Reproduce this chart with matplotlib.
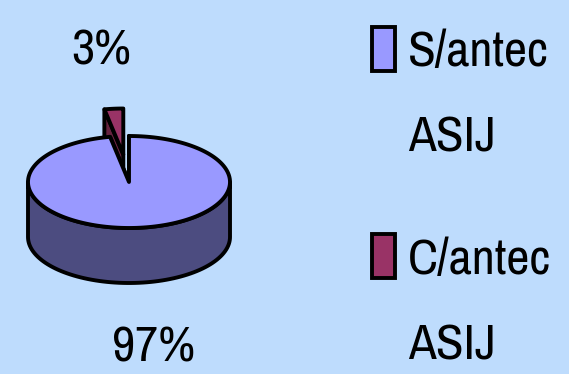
import numpy as np
import matplotlib.pyplot as plt
from matplotlib import font_manager as fm
from matplotlib.patches import Polygon, Rectangle
import logging

logging.getLogger("matplotlib.font_manager").setLevel(logging.ERROR)

# data
labels = ["S/antec\nASIJ", "C/antec\nASIJ"]
values = [97, 3]
pct_text = ["97%", "3%"]
top_colors = ["#9999FF", "#993366"]
side_colors = ["#4C4C80", "#66223F"]
explode = [0.0, 0.6]

BG = "#BEDCFD"

# narrow Arial-like sans, pick the first one that is installed
wanted = ["Liberation Sans Narrow", "Archivo Narrow", "Roboto Condensed",
          "Pathway Gothic One", "DejaVu Sans"]
have = {f.name for f in fm.fontManager.ttflist}
FONT = [n for n in wanted if n in have] or ["DejaVu Sans"]
FONT = FONT[:1] + (["DejaVu Sans"] if FONT[0] != "DejaVu Sans" else [])

# pie geometry in pixel space
cx, cy = 129, 182
ra, rb = 101, 46
depth = 55
LW = 2.8

fig = plt.figure(figsize=(5.69, 3.74), dpi=100)
fig.patch.set_facecolor(BG)
ax = fig.add_axes([0, 0, 1, 1])
ax.set_xlim(0, 569)
ax.set_ylim(374, 0)
ax.axis("off")

# size the font so "S/antec" is about as wide as in the reference
probe = ax.text(0, 0, "S/antec", family=FONT, fontsize=30)
rend = fig.canvas.get_renderer()
w = probe.get_window_extent(rend).width
probe.remove()
FS = min(46, 30 * 141 / w)

def pt(th, dx=0, dy=0, z=0):
    return (cx + dx + ra*np.cos(th), cy + dy - rb*np.sin(th) + z)

def draw_slice(t0, t1, top, side, dx, dy, zo):
    kw = dict(edgecolor="black", linewidth=LW, joinstyle="round")
    c_top = (cx + dx, cy + dy)
    c_bot = (cx + dx, cy + dy + depth)
    # radial walls
    for t in (t0, t1):
        p = pt(t, dx, dy)
        q = pt(t, dx, dy, depth)
        ax.add_patch(Polygon([c_top, p, q, c_bot], closed=True,
                             facecolor=side, zorder=zo, **kw))
    # outer wall, front part only
    a0 = max(t0, np.pi)
    a1 = min(t1, 2*np.pi)
    if a1 > a0:
        th = np.linspace(a0, a1, 80)
        upper = [pt(t, dx, dy) for t in th]
        lower = [pt(t, dx, dy, depth) for t in th[::-1]]
        ax.add_patch(Polygon(upper + lower, closed=True,
                             facecolor=side, zorder=zo + 1, **kw))
    # top face
    th = np.linspace(t0, t1, 200)
    ax.add_patch(Polygon([c_top] + [pt(t, dx, dy) for t in th], closed=True,
                         facecolor=top, zorder=zo + 2, **kw))

fracs = np.array(values) / sum(values)
start = np.pi/2
spans = [None]*len(values)
for i in range(len(values) - 1, -1, -1):
    spans[i] = (start, start + 2*np.pi*fracs[i])
    start += 2*np.pi*fracs[i]

# small slice sits at the back, draw it first
for k, i in enumerate([1, 0]):
    t0, t1 = spans[i]
    mid = (t0 + t1) / 2
    dx = explode[i]*ra*np.cos(mid)
    dy = -explode[i]*rb*np.sin(mid)
    draw_slice(t0, t1, top_colors[i], side_colors[i], dx, dy, 2 + 4*k)

# percentage labels
ax.text(154, 343, pct_text[0], family=FONT, fontsize=FS, ha="center",
        va="center_baseline", zorder=20)
ax.text(101, 46, pct_text[1], family=FONT, fontsize=FS, ha="center",
        va="center_baseline", zorder=20)

# legend
leg_y = [27, 234]
txt_mid = [(48, 133), (256, 341)]
for i in range(len(labels)):
    ax.add_patch(Rectangle((372, leg_y[i]), 23, 44, facecolor=top_colors[i],
                           edgecolor="black", linewidth=LW, zorder=20))
    l1, l2 = labels[i].split("\n")
    ax.text(408, txt_mid[i][0], l1, family=FONT, fontsize=FS,
            ha="left", va="center_baseline", zorder=20)
    ax.text(408, txt_mid[i][1], l2, family=FONT, fontsize=FS,
            ha="left", va="center_baseline", zorder=20)

fig.savefig("out.png", dpi=100, facecolor=BG)
